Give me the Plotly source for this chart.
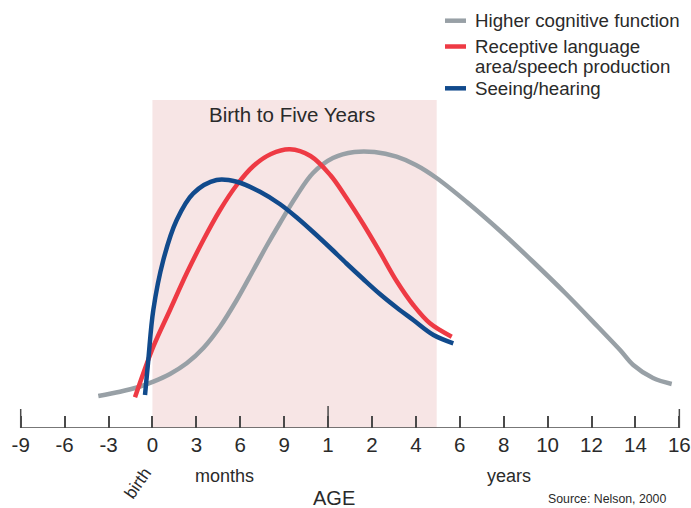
import plotly.graph_objects as go

# x positions are in "tick index" units (0 = -9 months ... 15 = 16 years)
tick_labels = ["-9", "-6", "-3", "0", "3", "6", "9", "1", "2", "4", "6", "8", "10", "12", "14", "16"]

gray_x = [1.767, 2.261, 2.65, 3.02, 3.40, 3.78, 4.16, 4.54, 4.92, 5.30, 5.60, 5.905, 6.28, 6.657,
          7.11, 7.60, 8.06, 8.56, 9.00, 9.47, 10.16, 10.92, 11.65, 12.40, 13.15, 13.65, 13.95,
          14.40, 14.826]
gray_y = [32, 36.3, 40.5, 46.3, 54, 64.7, 80, 101.3, 128, 158, 182, 205, 232, 255,
          270, 276, 276, 271.3, 263, 250, 226, 197, 167, 135, 101, 78, 63,
          50, 44]

red_x = [2.603, 3.02, 3.40, 3.78, 4.16, 4.54, 4.92, 5.30, 5.70, 6.13, 6.60, 7.05, 7.42,
         7.80, 8.18, 8.56, 8.94, 9.32, 9.816]
red_y = [30.7, 81.3, 118, 154.7, 188, 218, 243, 262, 274, 278.7, 272, 253, 230,
         204, 176, 147, 123, 104.7, 91.3]

blue_x = [2.831, 2.906, 3.02, 3.248, 3.553, 3.931, 4.46, 4.92, 5.45, 5.90, 6.30, 6.66, 7.04,
          7.42, 7.80, 8.18, 8.56, 8.94, 9.40, 9.852]
blue_y = [33, 68, 118, 168, 208, 234.7, 248, 246.3, 236.3, 224, 210, 196, 180.5,
          164.5, 149, 134, 120.5, 108, 93, 84.7]

series_names = ["Higher cognitive function", "Receptive language", "area/speech production", "Seeing/hearing"]

GRAY = "#98a0a6"
RED = "#ee3a44"
BLUE = "#114a8c"
TXT = "#2a2a2a"
FONT = "Liberation Sans, Arial, sans-serif"

fig = go.Figure()
fig.add_trace(go.Scatter(x=gray_x, y=gray_y, mode="lines",
                         line=dict(color=GRAY, width=4.5, shape="spline", smoothing=1.0)))
fig.add_trace(go.Scatter(x=red_x, y=red_y, mode="lines",
                         line=dict(color=RED, width=4.5, shape="spline", smoothing=1.0)))
fig.add_trace(go.Scatter(x=blue_x, y=blue_y, mode="lines",
                         line=dict(color=BLUE, width=4.5, shape="spline", smoothing=1.0)))

shapes = []
# shaded "birth to five years" region
shapes.append(dict(type="rect", xref="x", yref="y", x0=3, x1=9.474, y0=0, y1=328,
                   fillcolor="#f7e5e5", line=dict(width=0), layer="below"))
# axis line
shapes.append(dict(type="line", xref="x", yref="y", x0=0, x1=15, y0=0, y1=0,
                   line=dict(color="#4a4a4a", width=1.5)))
# taller ticks
for tx, th in [(0, 19), (7, 22), (15, 19)]:
    shapes.append(dict(type="line", xref="x", yref="y", x0=tx, x1=tx, y0=0, y1=th,
                       line=dict(color="#4a4a4a", width=1.5)))

# legend swatches (pixel y -> data y = 428 - py)
leg_colors = [GRAY, RED, BLUE]
leg_py = [20.7, 46.5, 88.3]
for c, py in zip(leg_colors, leg_py):
    shapes.append(dict(type="line", xref="paper", yref="y", x0=445 / 691, x1=466 / 691,
                       y0=428 - py, y1=428 - py, line=dict(color=c, width=4.5)))

annotations = []
leg_text_py = [20.7, 46.0, 66.7, 88.0]
for name, py in zip(series_names, leg_text_py):
    annotations.append(dict(text=name, xref="paper", yref="y", x=472.5 / 691, y=428 - py,
                            xanchor="left", yanchor="middle", showarrow=False,
                            font=dict(family=FONT, size=18.7, color=TXT)))

annotations.append(dict(text="Birth to Five Years", xref="paper", yref="y", x=292 / 691, y=428 - 114,
                        xanchor="center", yanchor="middle", showarrow=False,
                        font=dict(family=FONT, size=20.5, color=TXT)))

def py_paper(py):
    return 1 - py / 428

annotations.append(dict(text="birth", xref="paper", yref="paper", x=137.5 / 691, y=py_paper(483),
                        xanchor="center", yanchor="middle", showarrow=False, textangle=-55,
                        font=dict(family=FONT, size=17, color=TXT)))
annotations.append(dict(text="months", xref="paper", yref="paper", x=224 / 691, y=py_paper(475.5),
                        xanchor="center", yanchor="middle", showarrow=False,
                        font=dict(family=FONT, size=18, color=TXT)))
annotations.append(dict(text="years", xref="paper", yref="paper", x=509 / 691, y=py_paper(475.5),
                        xanchor="center", yanchor="middle", showarrow=False,
                        font=dict(family=FONT, size=18, color=TXT)))
annotations.append(dict(text="AGE", xref="paper", yref="paper", x=334 / 691, y=py_paper(498),
                        xanchor="center", yanchor="middle", showarrow=False,
                        font=dict(family=FONT, size=20, color=TXT)))
annotations.append(dict(text="Source: Nelson, 2000", xref="paper", yref="paper", x=668 / 691, y=py_paper(499),
                        xanchor="right", yanchor="middle", showarrow=False,
                        font=dict(family=FONT, size=12.3, color=TXT)))

fig.update_layout(
    width=691, height=508,
    margin=dict(l=0, r=0, t=0, b=80, pad=0),
    paper_bgcolor="white", plot_bgcolor="white",
    showlegend=False,
    shapes=shapes, annotations=annotations,
    xaxis=dict(range=[-20.7 / 43.91, (691 - 20.7) / 43.91], showgrid=False, zeroline=False,
               showline=False, tickmode="array", tickvals=list(range(len(tick_labels))),
               ticktext=tick_labels, ticks="inside", ticklen=12, tickwidth=1.5,
               tickcolor="#4a4a4a", ticklabelstandoff=2,
               tickfont=dict(family=FONT, size=20.5, color=TXT), fixedrange=True),
    yaxis=dict(range=[0, 428], showgrid=False, zeroline=False, showline=False,
               showticklabels=False, ticks="", fixedrange=True),
)

fig.write_html("out.html", config={"displayModeBar": False},
               post_script="document.body.style.margin='0';document.body.style.overflow='hidden';")
